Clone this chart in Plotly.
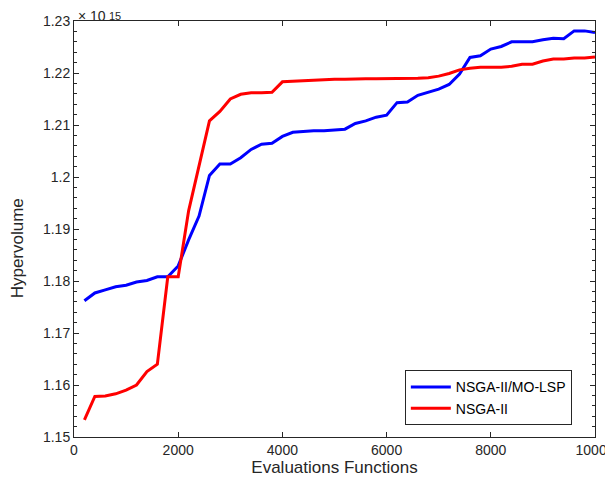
import plotly.graph_objects as go

evaluations = list(range(200, 10001, 200))

nsga2_molsp = [1.1762, 1.1777, 1.1783, 1.1789, 1.1792, 1.1798, 1.1801, 1.1808, 1.1808, 1.1829,
               1.1879, 1.1925, 1.2003, 1.2025, 1.2025, 1.2037, 1.2053, 1.2063, 1.2065, 1.2078,
               1.2086, 1.2088, 1.2089, 1.2089, 1.2090, 1.2092, 1.2103, 1.2108, 1.2115, 1.2119,
               1.2143, 1.2144, 1.2157, 1.2163, 1.2169, 1.2178, 1.2198, 1.2230, 1.2233, 1.2246,
               1.2251, 1.2260, 1.2260, 1.2260, 1.2264, 1.2267, 1.2266, 1.2281, 1.2281, 1.2278]

nsga2 = [1.1533, 1.1578, 1.1579, 1.1583, 1.1590, 1.1600, 1.1626, 1.1640, 1.1808, 1.1808,
         1.1935, 1.2022, 1.2108, 1.2126, 1.2150, 1.2159, 1.2162, 1.2162, 1.2163, 1.2183,
         1.2184, 1.2186, 1.2187, 1.2188, 1.2188, 1.2188, 1.2189, 1.2189, 1.2189, 1.2189,
         1.2190, 1.2190, 1.2190, 1.2191, 1.2194, 1.2199, 1.2206, 1.2209, 1.2211, 1.2211,
         1.2211, 1.2213, 1.2217, 1.2217, 1.2223, 1.2227, 1.2227, 1.2229, 1.2229, 1.2231]

x_ticks = [0, 2000, 4000, 6000, 8000, 10000]
y_ticks = [1.15, 1.16, 1.17, 1.18, 1.19, 1.20, 1.21, 1.22, 1.23]
y_tick_labels = ["1.15", "1.16", "1.17", "1.18", "1.19", "1.2", "1.21", "1.22", "1.23"]

FONT = "Liberation Sans, Arial, Helvetica, sans-serif"
AXC = "#262626"

fig = go.Figure()
fig.add_trace(go.Scatter(x=evaluations, y=nsga2_molsp, mode="lines", name="NSGA-II/MO-LSP",
                         line=dict(color="rgb(0,0,255)", width=3)))
fig.add_trace(go.Scatter(x=evaluations, y=nsga2, mode="lines", name="NSGA-II",
                         line=dict(color="rgb(255,0,0)", width=3)))

# page body has an 8px margin, so the figure is sized to fit the 613x486 window
fig.update_layout(
    width=605, height=470,
    margin=dict(l=66, r=18, t=13, b=41),
    paper_bgcolor="white", plot_bgcolor="white",
    font=dict(family=FONT, size=14, color=AXC),
    showlegend=True,
    legend=dict(x=0.635, y=0.028, xanchor="left", yanchor="bottom",
                bgcolor="white", bordercolor=AXC, borderwidth=1,
                font=dict(size=14, color="black"), tracegroupgap=0,
                itemwidth=40),
)
fig.update_xaxes(
    range=[0, 10000], tickvals=x_ticks, ticktext=[str(v) for v in x_ticks],
    showgrid=False, zeroline=False, showline=True, linecolor=AXC, linewidth=1,
    mirror="ticks", ticks="inside", ticklen=5, tickcolor=AXC, automargin=False,
    tickfont=dict(size=14, color=AXC), ticklabeloverflow="allow",
    title=dict(text="Evaluations Functions", font=dict(size=17, color=AXC), standoff=4),
)
fig.update_yaxes(
    range=[1.15, 1.23], tickvals=y_ticks, ticktext=y_tick_labels,
    showgrid=False, zeroline=False, showline=True, linecolor=AXC, linewidth=1,
    mirror="ticks", ticks="inside", ticklen=5, tickcolor=AXC, automargin=False,
    tickfont=dict(size=14, color=AXC), ticklabeloverflow="allow",
    minor=dict(dtick=0.002, tick0=1.15, ticks="inside", ticklen=3, tickcolor=AXC, showgrid=False),
)
# y-axis title
fig.add_annotation(xref="paper", yref="paper", x=-0.109, y=0.454, xanchor="center", yanchor="middle",
                   text="Hypervolume", textangle=-90, showarrow=False,
                   font=dict(size=17, color=AXC))
# exponent label
fig.add_annotation(xref="paper", yref="paper", x=0.003, y=1.0, xanchor="left", yanchor="bottom",
                   text="\u00d7 10", showarrow=False, font=dict(size=14, color=AXC),
                   yshift=-5, xshift=0)
fig.add_annotation(xref="paper", yref="paper", x=0.063, y=1.0, xanchor="left", yanchor="top",
                   text="15", showarrow=False, font=dict(size=11, color=AXC),
                   yshift=13)

fig.write_html("out.html")
